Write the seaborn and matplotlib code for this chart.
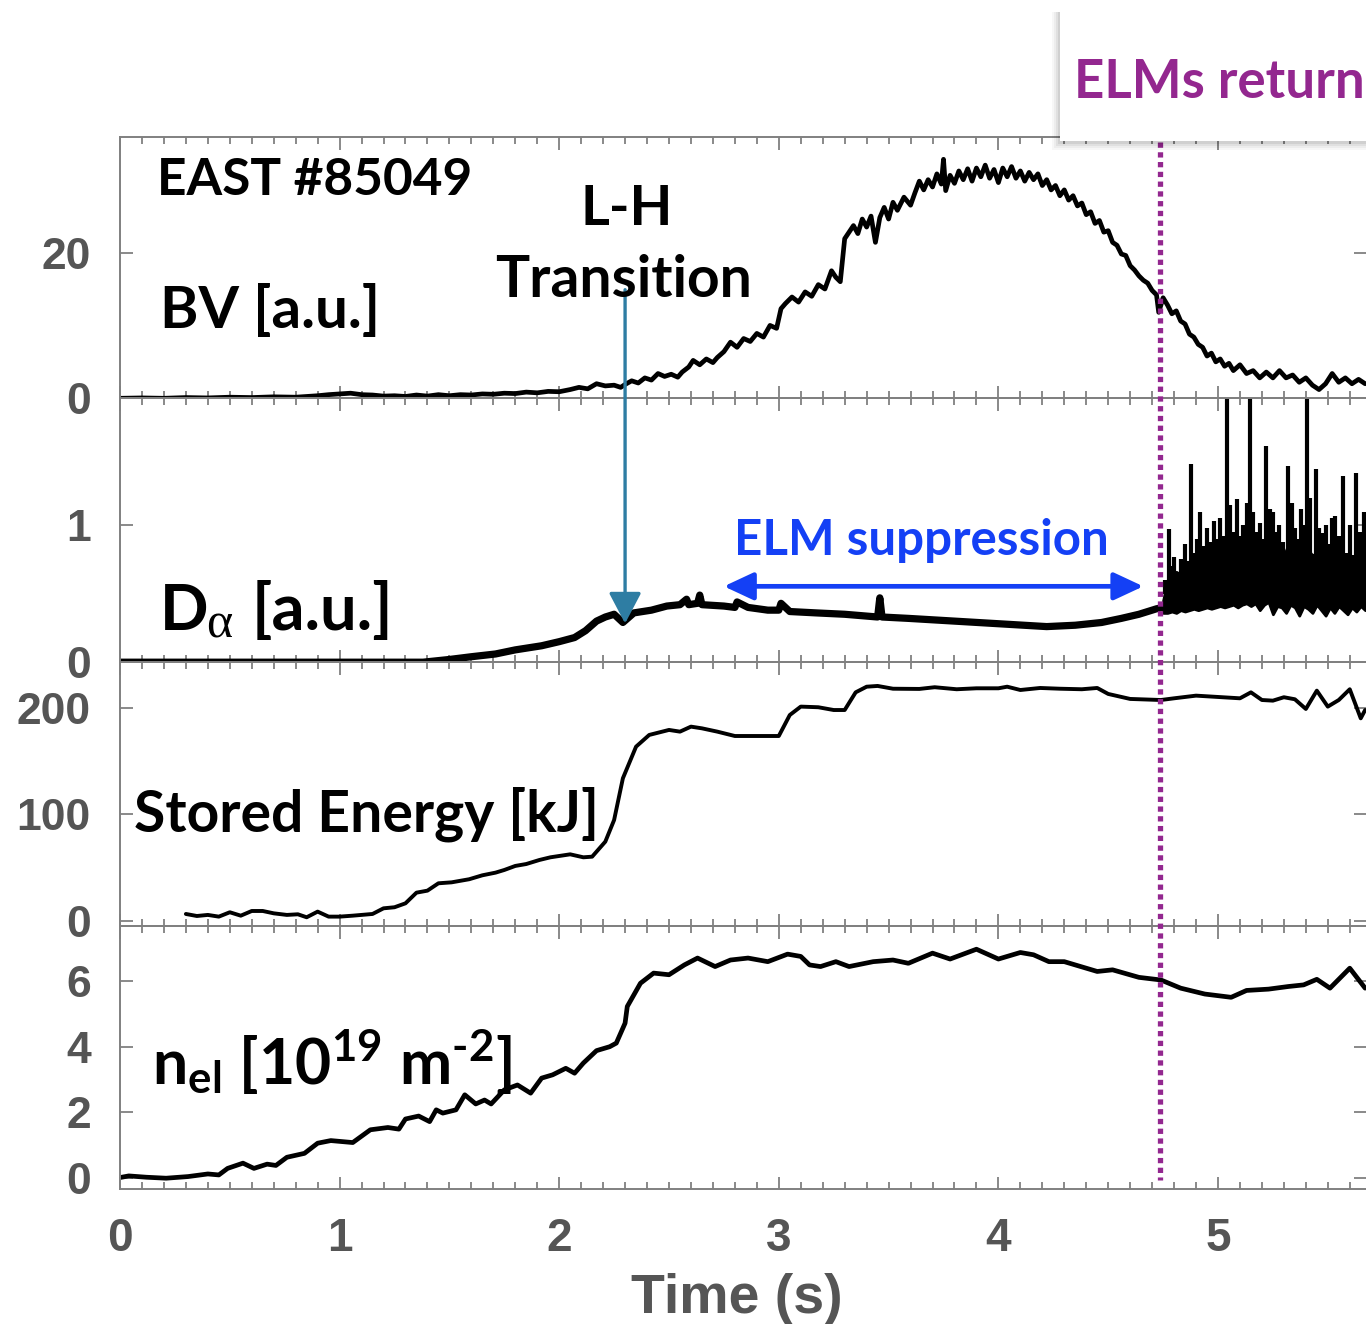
import matplotlib
matplotlib.use("Agg")
import matplotlib.pyplot as plt
from matplotlib.patches import Rectangle, ConnectionPatch, FancyArrowPatch
from matplotlib.lines import Line2D
from matplotlib.ticker import MultipleLocator, FixedLocator
import numpy as np
import pandas as pd
import seaborn as sns

# ---------------- data ----------------
# BV [a.u.]
bv_t_a = [0.00, 0.10, 0.20, 0.30, 0.40, 0.50, 0.60, 0.70, 0.80, 0.90,
          0.95, 1.00, 1.05, 1.10, 1.15, 1.20, 1.25, 1.30, 1.35, 1.40,
          1.45, 1.50, 1.55, 1.60, 1.65, 1.70, 1.75, 1.80, 1.85, 1.90,
          1.95, 2.00, 2.05, 2.09, 2.13, 2.17, 2.21, 2.25, 2.28]
bv_v_a = [0.0, 0.05, 0.0, 0.1, 0.05, 0.15, 0.1, 0.2, 0.15, 0.35,
          0.5, 0.6, 0.7, 0.5, 0.45, 0.3, 0.35, 0.25, 0.45, 0.3,
          0.5, 0.35, 0.5, 0.45, 0.6, 0.55, 0.7, 0.65, 0.85, 0.75,
          0.95, 0.9, 1.2, 1.5, 1.3, 2.0, 1.7, 1.8, 1.5]
bv_t_b = [2.30, 2.33, 2.36, 2.39, 2.42, 2.45, 2.48, 2.51, 2.54, 2.56,
          2.59, 2.61, 2.64, 2.67, 2.70, 2.72, 2.75, 2.78, 2.81, 2.84,
          2.87, 2.90, 2.93, 2.96, 2.99]
bv_v_b = [1.9, 2.4, 2.1, 2.8, 2.5, 3.4, 3.0, 3.3, 2.9, 3.6,
          4.3, 5.2, 4.6, 5.4, 4.9, 5.6, 6.4, 7.7, 7.0, 8.2,
          7.8, 8.9, 8.4, 10.0, 9.6]
bv_t_c = [3.01, 3.03, 3.06, 3.09, 3.12, 3.15, 3.18, 3.21, 3.24, 3.26,
          3.28, 3.30, 3.32, 3.34, 3.36, 3.38, 3.40, 3.42, 3.44, 3.46,
          3.48, 3.50, 3.52, 3.54, 3.57, 3.60, 3.62, 3.64, 3.66, 3.68,
          3.70, 3.72, 3.74]
bv_v_c = [12.3, 13.0, 13.9, 13.2, 14.6, 14.0, 15.6, 15.0, 17.5, 16.6,
          16.0, 21.9, 22.8, 23.7, 22.6, 24.6, 23.5, 25.0, 21.4, 24.8,
          26.2, 24.6, 26.9, 25.8, 27.6, 26.5, 28.2, 29.8, 28.6, 30.0,
          29.0, 30.8, 29.4]
bv_t_d = [3.75, 3.76, 3.78, 3.80, 3.82, 3.84, 3.86, 3.88, 3.90, 3.92,
          3.94, 3.96, 3.98, 4.00, 4.02, 4.04, 4.06, 4.08, 4.10, 4.12,
          4.14, 4.16, 4.18, 4.20, 4.22, 4.24, 4.26, 4.28, 4.30, 4.32,
          4.34, 4.36, 4.38, 4.40, 4.42, 4.44, 4.46, 4.48, 4.50]
bv_v_d = [32.8, 28.5, 30.6, 29.5, 31.2, 30.0, 31.5, 29.8, 31.6, 30.4,
          32.0, 30.2, 31.4, 29.6, 31.6, 30.4, 31.8, 30.2, 31.2, 29.8,
          31.0, 30.0, 30.8, 29.2, 30.0, 28.6, 29.2, 27.8, 28.6, 27.2,
          27.8, 26.4, 26.8, 25.2, 25.6, 24.0, 24.4, 22.8, 23.0]
bv_t_e = [4.52, 4.54, 4.56, 4.58, 4.60, 4.62, 4.64, 4.66, 4.68, 4.70,
          4.72, 4.73, 4.75, 4.77, 4.79, 4.81, 4.83, 4.85, 4.87, 4.89,
          4.91, 4.93, 4.95, 4.97, 4.99, 5.01, 5.03, 5.05, 5.07, 5.10,
          5.13, 5.16, 5.19, 5.22, 5.25, 5.28, 5.31, 5.34, 5.37, 5.40,
          5.43, 5.46, 5.49, 5.52, 5.55, 5.58, 5.61, 5.64, 5.67]
bv_v_e = [21.4, 21.0, 19.8, 19.6, 18.2, 17.6, 16.8, 16.2, 15.8, 14.8,
          14.2, 11.8, 13.8, 12.8, 11.6, 12.0, 10.6, 10.2, 8.8, 8.4,
          7.4, 7.0, 5.8, 6.2, 5.0, 5.4, 4.4, 4.8, 3.8, 4.6,
          3.4, 3.8, 2.8, 3.6, 2.8, 3.8, 2.8, 3.2, 2.2, 2.8,
          1.8, 1.2, 2.0, 3.4, 2.2, 2.8, 2.0, 2.6, 2.0]

# D-alpha [a.u.] (before ELMs return)
da_t = [0.00, 1.00, 1.38, 1.50, 1.60, 1.71, 1.80, 1.92, 2.00, 2.07,
        2.12, 2.17, 2.21, 2.25, 2.29, 2.34, 2.42, 2.49, 2.55, 2.58,
        2.59, 2.63, 2.64, 2.65, 2.75, 2.80, 2.81, 2.86, 2.95, 3.00,
        3.01, 3.05, 3.17, 3.30, 3.45, 3.46, 3.47, 3.59, 3.80, 4.01,
        4.22, 4.35, 4.47, 4.56, 4.64, 4.72, 4.75]
da_v = [0.00, 0.00, 0.00, 0.02, 0.04, 0.06, 0.09, 0.12, 0.15, 0.18,
        0.23, 0.30, 0.33, 0.35, 0.29, 0.36, 0.38, 0.41, 0.42, 0.46,
        0.42, 0.43, 0.49, 0.42, 0.41, 0.40, 0.44, 0.40, 0.38, 0.38,
        0.43, 0.37, 0.36, 0.35, 0.33, 0.47, 0.33, 0.32, 0.30, 0.28,
        0.26, 0.27, 0.29, 0.32, 0.35, 0.39, 0.40]
# D-alpha during ELMy phase: dense band (lower edge / solid core) and ELM spikes
elm_t = [4.75, 4.77, 4.79, 4.81, 4.83, 4.85, 4.87, 4.89, 4.91, 4.93,
         4.95, 4.97, 4.99, 5.01, 5.03, 5.05, 5.07, 5.09, 5.11, 5.13,
         5.15, 5.17, 5.19, 5.21, 5.23, 5.25, 5.27, 5.29, 5.31, 5.33,
         5.35, 5.37, 5.39, 5.41, 5.43, 5.45, 5.47, 5.49, 5.51, 5.53,
         5.55, 5.57, 5.59, 5.61, 5.63, 5.65, 5.67]
elm_lo = [0.36, 0.36, 0.37, 0.36, 0.38, 0.37, 0.38, 0.39, 0.38, 0.39,
          0.40, 0.39, 0.40, 0.41, 0.40, 0.41, 0.42, 0.40, 0.42, 0.43,
          0.41, 0.43, 0.38, 0.42, 0.44, 0.35, 0.41, 0.40, 0.36, 0.42,
          0.40, 0.34, 0.41, 0.39, 0.36, 0.42, 0.38, 0.34, 0.40, 0.36,
          0.41, 0.38, 0.35, 0.40, 0.37, 0.41, 0.38]
elm_core = [0.45, 0.60, 0.62, 0.66, 0.64, 0.70, 0.68, 0.74, 0.72, 0.76,
            0.74, 0.80, 0.76, 0.82, 0.78, 0.84, 0.80, 0.86, 0.80, 0.84,
            0.78, 0.82, 0.72, 0.84, 0.78, 0.82, 0.74, 0.86, 0.78, 0.82,
            0.76, 0.80, 0.72, 0.82, 0.78, 0.80, 0.70, 0.76, 0.72, 0.78,
            0.70, 0.68, 0.64, 0.74, 0.68, 0.76, 0.70]
spike_t = [4.760, 4.775, 4.790, 4.800, 4.815, 4.830, 4.850, 4.860, 4.875, 4.890,
           4.905, 4.920, 4.935, 4.950, 4.965, 4.980, 4.995, 5.010, 5.025, 5.040,
           5.055, 5.070, 5.085, 5.100, 5.115, 5.130, 5.145, 5.160, 5.175, 5.190,
           5.205, 5.220, 5.235, 5.250, 5.265, 5.280, 5.295, 5.320, 5.335, 5.350,
           5.365, 5.380, 5.390, 5.405, 5.420, 5.445, 5.460, 5.475, 5.490, 5.505,
           5.520, 5.535, 5.550, 5.570, 5.585, 5.600, 5.615, 5.630, 5.645, 5.665]
spike_v = [0.60, 0.97, 0.70, 0.77, 0.66, 0.75, 0.86, 0.74, 1.45, 0.80,
           0.90, 1.10, 0.85, 0.98, 0.88, 1.03, 0.90, 1.05, 0.92, 1.93,
           1.15, 0.95, 1.19, 0.92, 1.00, 1.16, 1.93, 1.10, 0.95, 1.02,
           0.90, 1.58, 1.12, 1.10, 0.95, 1.00, 0.88, 1.43, 1.16, 0.98,
           0.90, 1.12, 1.00, 1.93, 1.20, 1.41, 0.98, 0.94, 1.00, 0.86,
           1.05, 1.07, 0.92, 1.36, 0.80, 1.00, 0.78, 1.38, 0.95, 1.10]
spike_base = 0.50

# Stored energy [kJ]
se_t_a = [0.30, 0.35, 0.40, 0.45, 0.50, 0.55, 0.60, 0.65, 0.70, 0.76,
          0.81, 0.85, 0.90, 0.95, 1.00, 1.06, 1.15, 1.20, 1.25, 1.30]
se_v_a = [6.3, 4.4, 5.4, 3.8, 7.9, 4.7, 9.1, 9.1, 6.9, 5.4,
          6.0, 3.2, 8.5, 3.8, 3.8, 4.7, 6.3, 11.6, 12.6, 16.3]
se_t_b = [1.35, 1.40, 1.45, 1.51, 1.59, 1.65, 1.71, 1.75, 1.80, 1.85,
          1.91, 1.96, 2.05, 2.11, 2.15, 2.21, 2.25, 2.29, 2.35, 2.41,
          2.50, 2.55, 2.60, 2.65, 2.72, 2.80]
se_v_b = [26.3, 28.2, 35.1, 36.0, 38.9, 42.6, 45.1, 47.6, 51.4, 53.2,
          57.0, 59.5, 62.3, 59.5, 60.1, 74.2, 94.5, 133.7, 163.4, 174.4,
          179.1, 177.5, 182.2, 180.6, 177.5, 173.4]
se_t_c = [3.00, 3.05, 3.10, 3.18, 3.25, 3.30, 3.35, 3.40, 3.45, 3.52,
          3.64, 3.71, 3.81, 3.90, 4.00, 4.04, 4.10, 4.19, 4.28, 4.38, 4.45]
se_v_c = [173.4, 193.1, 201.0, 200.4, 197.8, 197.8, 214.4, 219.7, 220.4, 217.8,
          217.6, 219.2, 217.3, 218.2, 218.2, 219.7, 216.6, 218.5, 217.8, 217.3, 218.5]
se_t_d = [4.50, 4.60, 4.74, 4.80, 4.90, 5.10, 5.15, 5.20, 5.25, 5.30,
          5.35, 5.40, 5.45, 5.50, 5.55, 5.60, 5.65, 5.67]
se_v_d = [212.9, 208.2, 207.2, 208.8, 211.3, 208.8, 214.4, 207.2, 206.6, 209.8,
          207.9, 198.8, 216.0, 201.0, 207.2, 217.3, 190.0, 197.8]

# Line-integrated density [1e19 m^-2]
ne_t_a = [0.00, 0.04, 0.12, 0.21, 0.31, 0.40, 0.45, 0.49, 0.56, 0.61,
          0.67, 0.71, 0.76, 0.84, 0.90, 0.96, 1.06, 1.14, 1.22]
ne_v_a = [0.0, 0.05, 0.01, -0.02, 0.03, 0.11, 0.08, 0.28, 0.44, 0.28,
          0.41, 0.37, 0.62, 0.74, 1.05, 1.13, 1.07, 1.46, 1.53]
ne_t_b = [1.27, 1.30, 1.36, 1.41, 1.44, 1.47, 1.53, 1.57, 1.62, 1.66,
          1.69, 1.75, 1.81, 1.87, 1.92, 1.97, 2.03, 2.07, 2.11, 2.17, 2.23]
ne_v_b = [1.48, 1.79, 1.88, 1.71, 2.07, 1.97, 2.07, 2.53, 2.25, 2.37,
          2.25, 2.68, 2.83, 2.58, 3.04, 3.14, 3.34, 3.19, 3.50, 3.88, 4.00]
ne_t_c = [2.26, 2.30, 2.31, 2.37, 2.43, 2.50, 2.57, 2.63, 2.71, 2.78,
          2.86, 2.95, 3.04, 3.10, 3.14, 3.19, 3.26, 3.32, 3.43, 3.52, 3.59]
ne_v_c = [4.11, 4.72, 5.23, 5.94, 6.25, 6.20, 6.50, 6.71, 6.45, 6.65,
          6.71, 6.60, 6.83, 6.76, 6.50, 6.45, 6.60, 6.45, 6.60, 6.65, 6.55]
ne_t_d = [3.70, 3.78, 3.90, 4.00, 4.10, 4.16, 4.23, 4.30, 4.45, 4.52,
          4.64, 4.74, 4.83, 4.94, 5.06, 5.13, 5.23, 5.32, 5.39, 5.45,
          5.51, 5.60, 5.67]
ne_v_d = [6.86, 6.68, 6.98, 6.68, 6.88, 6.81, 6.60, 6.60, 6.30, 6.35,
          6.12, 6.04, 5.79, 5.61, 5.51, 5.72, 5.76, 5.84, 5.89, 6.06,
          5.79, 6.40, 5.79]

t_LH = 2.30          # L-H transition time (s)
t_elm = 4.736        # ELMs return (s)
elm_supp = (2.75, 4.66)

panel_yticks = [[0, 20], [0, 1], [0, 100, 200], [0, 2, 4, 6]]
x_ticks = [0, 1, 2, 3, 4, 5]

# ---------------- style ----------------
sns.set_theme(style="ticks")
plt.rcParams["font.family"] = ["Lato", "DejaVu Sans"]
plt.rcParams["mathtext.fontset"] = "custom"
plt.rcParams["mathtext.rm"] = "Lato:bold"
plt.rcParams["mathtext.it"] = "Lato:bold"
plt.rcParams["mathtext.bf"] = "Lato:bold"
plt.rcParams["mathtext.default"] = "rm"

W, H = 1366, 1324
X0 = 120.0
PX_PER_S = 219.6
XMAX = (W - X0) / PX_PER_S
GRAY = "#808080"
TICKC = "#555555"
PURPLE = "#93278F"
BLUE = "#1440F5"
TEAL = "#2E7DA3"

def fx(px):
    return px / W

def fy(py):
    return 1 - py / H

fig = plt.figure(figsize=(W / 100, H / 100), dpi=100)
fig.patch.set_facecolor("white")

rows = [(136.7, 398.3), (398.3, 662.2), (662.2, 926.0), (926.0, 1189.0)]
ylims = [(0, 35.9), (0, 1.927), (-5.0, 242.7), (-0.35, 7.69)]
axes = []
for i, ((top, bot), yl, yt) in enumerate(zip(rows, ylims, panel_yticks)):
    ax = fig.add_axes([fx(X0), fy(bot), 1 - fx(X0), (bot - top) / H])
    ax.set_facecolor("none")
    ax.set_xlim(0, XMAX)
    ax.set_ylim(*yl)
    ax.xaxis.set_major_locator(FixedLocator(x_ticks))
    ax.xaxis.set_minor_locator(MultipleLocator(0.1))
    ax.tick_params(axis="x", which="both", direction="in", top=True, bottom=True,
                   color=GRAY, width=1.3)
    ax.tick_params(axis="x", which="major", length=9)
    ax.tick_params(axis="x", which="minor", length=5)
    ax.set_yticks(yt)
    ax.set_yticklabels([str(v) for v in yt], fontfamily="Liberation Sans",
                       fontweight="bold", fontsize=32, color=TICKC)
    ax.tick_params(axis="y", which="major", direction="in", left=True, right=True,
                   length=9, width=1.3, color=GRAY, pad=21)
    for s in ax.spines.values():
        s.set_color(GRAY)
        s.set_linewidth(1.4)
    ax.spines["right"].set_visible(False)
    if i < 3:
        ax.tick_params(axis="x", labelbottom=False)
    axes.append(ax)

ax1, ax2, ax3, ax4 = axes

# ---------------- traces ----------------
bv_t = bv_t_a + bv_t_b + bv_t_c + bv_t_d + bv_t_e
bv_v = bv_v_a + bv_v_b + bv_v_c + bv_v_d + bv_v_e
sns.lineplot(x=bv_t, y=bv_v, ax=ax1, color="black", lw=3.4, sort=False,
             estimator=None, legend=False)

sns.lineplot(x=da_t, y=da_v, ax=ax2, color="black", lw=5.2, sort=False,
             estimator=None, legend=False)
ax2.fill_between(elm_t, elm_lo, elm_core, color="black", lw=2.0, edgecolor="black")
ax2.vlines(spike_t, spike_base, spike_v, color="black", lw=3.0)

se_t = se_t_a + se_t_b + se_t_c + se_t_d
se_v = se_v_a + se_v_b + se_v_c + se_v_d
sns.lineplot(x=se_t, y=se_v, ax=ax3, color="black", lw=2.8, sort=False,
             estimator=None, legend=False)

ne_t = ne_t_a + ne_t_b + ne_t_c + ne_t_d
ne_v = ne_v_a + ne_v_b + ne_v_c + ne_v_d
sns.lineplot(x=ne_t, y=ne_v, ax=ax4, color="black", lw=3.4, sort=False,
             estimator=None, legend=False)

for ax in axes:
    ax.set_xlabel("")
    ax.set_ylabel("")

ax4.set_xticks(x_ticks)
ax4.set_xticklabels([str(v) for v in x_ticks], fontfamily="Liberation Sans",
                    fontweight="bold", fontsize=33, color=TICKC)
ax4.tick_params(axis="x", which="major", pad=20)
ax4.set_xlabel("Time (s)", fontfamily="Liberation Sans", fontweight="bold",
               fontsize=40, color=TICKC)
ax4.xaxis.set_label_coords((737 - X0) / (W - X0), -(1273 - 1189) / 263.0)

# ---------------- annotations ----------------
# L-H transition arrow (crosses from panel 1 into panel 2)
lh = ConnectionPatch(xyA=(t_LH, 14.9), coordsA=ax1.transData,
                     xyB=(t_LH, 0.283), coordsB=ax2.transData,
                     arrowstyle="-|>,head_length=0.95,head_width=0.5",
                     mutation_scale=20, lw=2.4, color=TEAL,
                     shrinkA=0, shrinkB=0, zorder=4)
fig.add_artist(lh)

# ELM suppression double arrow
dbl = FancyArrowPatch(posA=(elm_supp[0], 0.554), posB=(elm_supp[1], 0.554),
                      transform=ax2.transData,
                      arrowstyle="<|-|>,head_length=0.9,head_width=0.42",
                      mutation_scale=20, lw=3.4, color=BLUE,
                      shrinkA=0, shrinkB=0, zorder=4)
ax2.add_patch(dbl)

# ELMs-return vertical dotted line, spanning all panels
to_fig = fig.transFigure.inverted()
pA = to_fig.transform(ax1.transData.transform((t_elm, 35.2)))
pB = to_fig.transform(ax4.transData.transform((t_elm, -0.07)))
vl = Line2D([pA[0], pB[0]], [pA[1], pB[1]], transform=fig.transFigure,
            lw=3.8, color=PURPLE, linestyle=(0, (1.0, 0.85)),
            dash_capstyle="butt", zorder=4)
fig.add_artist(vl)

# "ELMs return" callout box with soft shadow
for k, a in [(8, 0.03), (6, 0.04), (4, 0.05), (2, 0.07)]:
    fig.add_artist(Rectangle((fx(1060 - k), fy(142 + k)), 1.2, (142 + k - 12) / H,
                             transform=fig.transFigure, facecolor="black",
                             edgecolor="none", alpha=a, zorder=5))
fig.add_artist(Rectangle((fx(1060), fy(141)), 1.2, (141 - 10) / H,
                         transform=fig.transFigure, facecolor="white",
                         edgecolor="none", zorder=6))
fig.text(fx(1074), fy(98), "ELMs return", fontsize=38, fontweight="bold",
         color=PURPLE, ha="left", va="baseline", zorder=7)

# panel labels
lab = dict(fontweight="bold", color="black", ha="left", va="baseline", zorder=8)
fig.text(fx(157), fy(195), "EAST #85049", fontsize=37, **lab)
fig.text(fx(160), fy(328), "BV [a.u.]", fontsize=42, **lab)
fig.text(fx(627), fy(225), "L-H", fontsize=40, fontweight="bold", color="black",
         ha="center", va="baseline", zorder=8)
fig.text(fx(624), fy(297), "Transition", fontsize=41, fontweight="bold",
         color="black", ha="center", va="baseline", zorder=8)
fig.text(fx(160), fy(630), "D", fontsize=46, **lab)
fig.text(fx(206), fy(637), "α", fontsize=36, fontweight="normal",
         family=["Liberation Serif", "DejaVu Serif"], color="black",
         ha="left", va="baseline", zorder=8)
fig.text(fx(252), fy(630), "[a.u.]", fontsize=47, **lab)
fig.text(fx(921), fy(555), "ELM suppression", fontsize=35.5, fontweight="bold",
         color=BLUE, ha="center", va="baseline", zorder=8)
fig.text(fx(134), fy(832), "Stored Energy [kJ]", fontsize=41, **lab)
fig.text(fx(152), fy(1085), r"n$_{\mathrm{el}}$ [10$^{19}$ m$^{\text{-2}}$]",
         fontsize=45, **lab)

fig.savefig("out.png", dpi=100, facecolor="white")
